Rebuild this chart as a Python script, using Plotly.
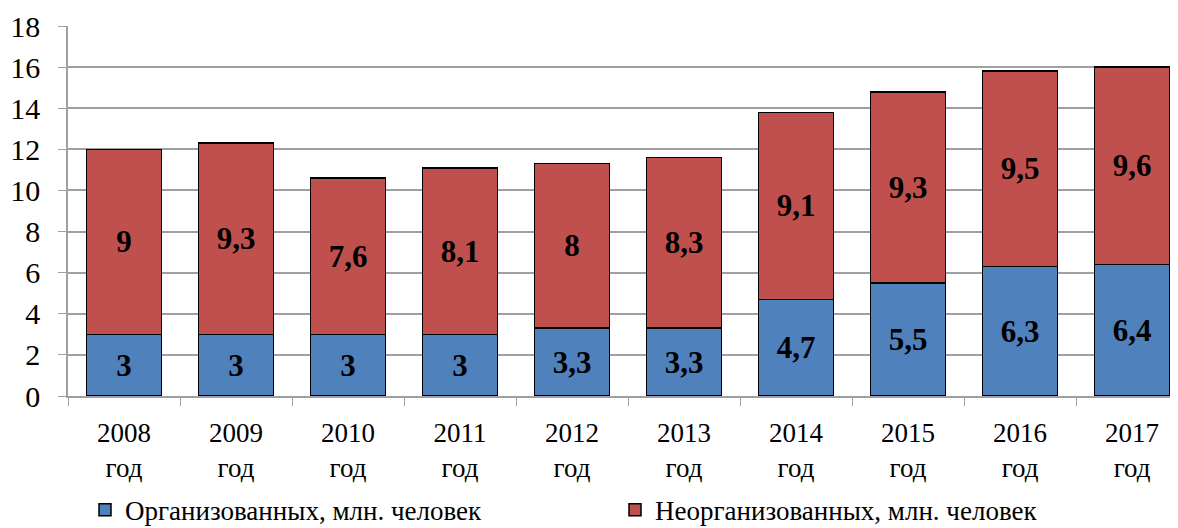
import plotly.graph_objects as go

years = ["2008", "2009", "2010", "2011", "2012", "2013", "2014", "2015", "2016", "2017"]
organized = [3, 3, 3, 3, 3.3, 3.3, 4.7, 5.5, 6.3, 6.4]
unorganized = [9, 9.3, 7.6, 8.1, 8, 8.3, 9.1, 9.3, 9.5, 9.6]
name_org = "Организованных, млн. человек"
name_unorg = "Неорганизованных, млн. человек"

cats = [f"{y}<br>год" for y in years]
fmt = lambda v: (f"{v:g}").replace(".", ",")

FONT = "Liberation Serif"
W, H = 1170, 520

fig = go.Figure()
fig.add_bar(x=cats, y=organized, name=name_org,
            marker=dict(color="#4F81BD", line=dict(color="black", width=1.5)),
            text=[fmt(v) for v in organized], textposition="inside",
            insidetextanchor="middle",
            textfont=dict(family=FONT, size=31, color="black", weight="bold"))
fig.add_bar(x=cats, y=unorganized, name=name_unorg,
            marker=dict(color="#C0504D", line=dict(color="black", width=1.5)),
            text=[fmt(v) for v in unorganized], textposition="inside",
            insidetextanchor="middle",
            textfont=dict(family=FONT, size=31, color="black", weight="bold"))

fig.update_layout(
    barmode="stack",
    bargap=0.33,
    width=W, height=H,
    margin=dict(l=60, r=0, t=18, b=132, autoexpand=False),
    plot_bgcolor="white", paper_bgcolor="white",
    font=dict(family=FONT, size=27, color="black"),
    uniformtext=dict(minsize=10, mode="show"),
    showlegend=True,
    legend=dict(orientation="h", xref="container", yref="container",
                x=77/W, y=0.034, xanchor="left", yanchor="middle",
                entrywidth=485, entrywidthmode="pixels", traceorder="normal",
                font=dict(family=FONT, size=27, color="black"),
                itemwidth=30, tracegroupgap=0),
)
fig.update_xaxes(type="category", range=[-0.5, 9.41], tickson="boundaries",
                 ticks="outside", ticklen=8, tickcolor="#a0a0a0",
                 showline=True, linecolor="#a0a0a0", linewidth=1.5,
                 showgrid=False, ticklabelstandoff=12,
                 tickfont=dict(family=FONT, size=27, color="black"))
fig.update_yaxes(range=[0, 18], dtick=2, ticks="outside", ticklen=8, tickcolor="#a0a0a0",
                 showline=True, linecolor="#a0a0a0", linewidth=1.5,
                 showgrid=True, gridcolor="#a0a0a0", gridwidth=1.5,
                 zeroline=False, ticklabelstandoff=12,
                 tickfont=dict(family=FONT, size=30, color="black"))

fig.write_html("out.html")
